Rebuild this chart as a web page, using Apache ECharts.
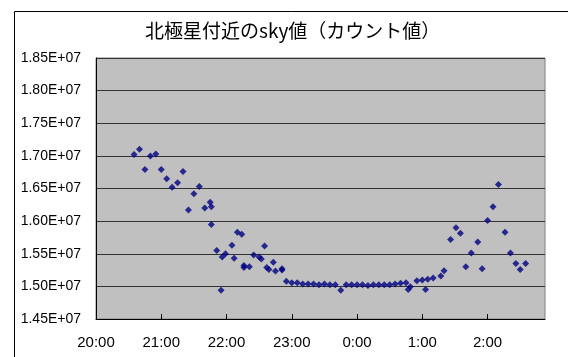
<!DOCTYPE html>
<html>
<head>
<meta charset="utf-8">
<script src="https://cdn.jsdelivr.net/npm/echarts@6/dist/echarts.min.js"></script>
<style>
html,body{margin:0;padding:0;background:#fff;}
#chart{width:568px;height:357px;}
</style>
</head>
<body>
<div id="chart"></div>
<script>
// Observation times (h:mm, after midnight continues next day)
const times = [
  "20:35","20:40","20:45","20:50","20:55","21:00","21:05","21:10","21:15","21:20",
  "21:25","21:30","21:35","21:40","21:45","21:46","21:46","21:51","21:55","21:56",
  "21:59","22:05","22:07","22:10","22:14","22:16","22:16","22:21","22:25","22:30",
  "22:32","22:35","22:37","22:39","22:43","22:45","22:51","22:51","22:55","23:00",
  "23:05","23:10","23:15","23:20","23:25","23:30","23:35","23:40","23:45","23:50",
  "23:55","0:00","0:05","0:10","0:15","0:20","0:25","0:30","0:35","0:40",
  "0:45","0:47","0:49","0:55","1:00","1:03","1:05","1:10","1:17","1:20",
  "1:26","1:31","1:35","1:40","1:45","1:51","1:55","2:00","2:05","2:10",
  "2:16","2:21","2:26","2:30","2:35"
];
// sky counts
const skyValues = [
  17020000,17100000,16790000,17000000,17030000,16790000,16650000,16520000,16590000,16760000,
  16170000,16420000,16530000,16200000,16290000,16220000,15950000,15550000,14940000,15450000,
  15500000,15630000,15430000,15830000,15800000,15320000,15290000,15300000,15480000,15450000,
  15420000,15620000,15290000,15260000,15370000,15235000,15270000,15250000,15080000,15057000,
  15057000,15035000,15035000,15035000,15026000,15035000,15026000,15026000,14940000,15026000,
  15026000,15026000,15026000,15015000,15026000,15026000,15026000,15026000,15035000,15046000,
  15057000,14954000,14995000,15088000,15097000,14954000,15108000,15128000,15160000,15240000,
  15720000,15900000,15815000,15300000,15510000,15680000,15270000,16010000,16220000,16560000,
  15830000,15510000,15350000,15260000,15350000
];
const xTickHours = [20,21,22,23,24,25,26];
const chartTitle = "北極星付近のsky値（カウント値）";

function toHours(t){
  const p = t.split(":");
  let h = parseInt(p[0],10) + parseInt(p[1],10)/60;
  if (h < 12) h += 24;
  return h;
}
const points = times.map((t,i)=>[toHours(t), skyValues[i]]);

const chart = echarts.init(document.getElementById('chart'), null, {renderer:'canvas'});
chart.setOption({
  animation:false,
  backgroundColor:'#ffffff',
  graphic:[
    {type:'rect', shape:{x:14.5,y:11.5,width:700,height:500}, style:{fill:'none',stroke:'#000',lineWidth:1}, z:-10},
    {type:'text', x:145, y:31, style:{text:chartTitle, textAlign:'left', textVerticalAlign:'middle',
      font:'19px "Noto Sans CJK JP"', fill:'#000'}}
  ],
  grid:{left:96, top:58, right:23, bottom:38, show:true, backgroundColor:'#C0C0C0', borderColor:'#808080', borderWidth:1},
  xAxis:{
    type:'value', min:20, max:26.88, interval:1,
    axisLine:{show:true, onZero:false, lineStyle:{color:'#000', width:1}},
    axisTick:{show:true, inside:true, length:5, lineStyle:{color:'#000'}, customValues:xTickHours},
    axisLabel:{color:'#000', fontSize:15, fontFamily:'"Liberation Sans", Arial, sans-serif', margin:16,
      customValues:xTickHours, formatter:v=>(Math.round(v)%24)+":00"},
    splitLine:{show:false}
  },
  yAxis:{
    type:'value', min:14500000, max:18500000, interval:500000,
    axisLine:{show:true, lineStyle:{color:'#000', width:1}},
    axisTick:{show:false},
    axisLabel:{color:'#000', fontSize:14, fontFamily:'"Liberation Sans", Arial, sans-serif', margin:15,
      formatter:v=>(v/1e7).toFixed(2)+"E+07"},
    splitLine:{show:true, lineStyle:{color:'#333', width:1}}
  },
  series:[{
    type:'scatter', data:points, symbol:'diamond', symbolSize:7,
    itemStyle:{color:'#000080'}
  }]
});
</script>
</body>
</html>
